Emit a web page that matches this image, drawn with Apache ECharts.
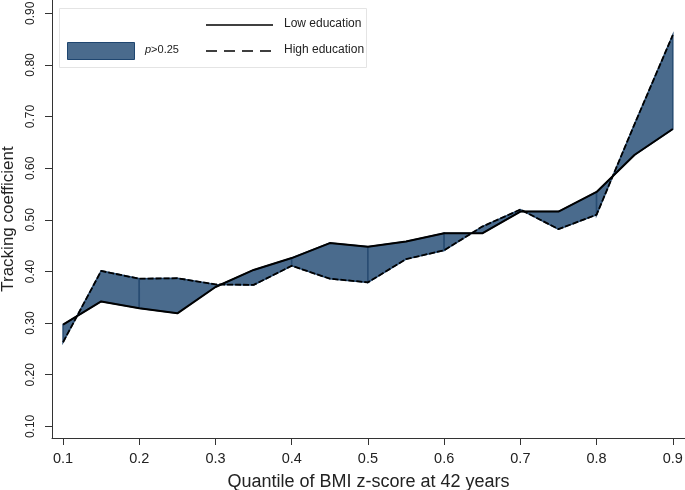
<!DOCTYPE html>
<html>
<head>
<meta charset="utf-8">
<script src="https://cdn.jsdelivr.net/npm/echarts@6/dist/echarts.min.js"></script>
<style>html,body{margin:0;padding:0;background:#fff}#c{width:685px;height:490px}</style>
</head>
<body>
<div id="c"></div>
<script>
// ---- data ----
var quantiles = [0.10,0.15,0.20,0.25,0.30,0.35,0.40,0.45,0.50,0.55,0.60,0.65,0.70,0.75,0.80,0.85,0.90];
var lowEducation  = [0.297,0.342,0.329,0.319,0.370,0.403,0.426,0.455,0.448,0.458,0.474,0.474,0.516,0.516,0.554,0.626,0.676];
var highEducation = [0.263,0.401,0.386,0.387,0.375,0.374,0.411,0.386,0.379,0.424,0.441,0.487,0.520,0.482,0.510,0.686,0.858];
var segmentBreaks = [0.1,0.2,0.4,0.5,0.6,0.8,0.9];
var xTicks = [0.1,0.2,0.3,0.4,0.5,0.6,0.7,0.8,0.9];
var yTicks = [0.1,0.2,0.3,0.4,0.5,0.6,0.7,0.8,0.9];
var seriesNames = ['Low education','High education'];
var bandLabel = '>0.25';
var xTitle = 'Quantile of BMI z-score at 42 years';
var yTitle = 'Tracking coefficient';

var FONT = '"Liberation Sans", Arial, sans-serif';
var FILL = '#4a6b8d';
var EDGE = '#284c72';

function idxOf(q){ for (var i=0;i<quantiles.length;i++){ if (Math.abs(quantiles[i]-q)<1e-9) return i; } return -1; }
var segData = [];
for (var s=0;s<segmentBreaks.length-1;s++){ segData.push([idxOf(segmentBreaks[s]), idxOf(segmentBreaks[s+1])]); }

var chart = echarts.init(document.getElementById('c'), null, {renderer:'canvas'});
var axisCol = '#333';
var option = {
  animation:false,
  backgroundColor:'#fff',
  grid:{left:52, right:0, top:0, bottom:52, containLabel:false, outerBoundsMode:'none'},
  xAxis:{
    type:'value', min:0.0855, max:0.916,
    name:xTitle, nameLocation:'middle', nameGap:35,
    nameTextStyle:{fontSize:18, color:'#222', fontFamily:FONT},
    axisLine:{show:true, lineStyle:{color:axisCol, width:1}},
    axisTick:{show:true, length:7, customValues:xTicks, lineStyle:{color:axisCol}},
    axisLabel:{customValues:xTicks, fontSize:14.5, color:'#222', fontFamily:FONT, margin:13,
      formatter:function(v){return v.toFixed(1);}},
    splitLine:{show:false}
  },
  yAxis:{
    type:'value', min:0.0775, max:0.9258,
    name:yTitle, nameLocation:'middle', nameGap:31,
    nameTextStyle:{fontSize:17, color:'#222', fontFamily:FONT},
    axisLine:{show:true, lineStyle:{color:axisCol, width:1}},
    axisTick:{show:true, length:7, customValues:yTicks, lineStyle:{color:axisCol}},
    axisLabel:{customValues:yTicks, rotate:90, fontSize:12, color:'#222', fontFamily:FONT, margin:15,
      formatter:function(v){return v.toFixed(2);}},
    splitLine:{show:false}
  },
  series:[
    {
      type:'custom', name:'band', z:1,
      data:segData,
      renderItem:function(params, api){
        var a = api.value(0), b = api.value(1);
        var pts = [];
        for (var i=a;i<=b;i++) pts.push(api.coord([quantiles[i], lowEducation[i]]));
        for (var j=b;j>=a;j--) pts.push(api.coord([quantiles[j], highEducation[j]]));
        return {type:'polygon', shape:{points:pts}, style:{fill:FILL, stroke:EDGE, lineWidth:1.5}};
      },
      encode:{x:[], y:[]},
      silent:true
    },
    {
      type:'line', name:seriesNames[0], z:3, symbol:'none',
      data:quantiles.map(function(q,i){return [q, lowEducation[i]];}),
      lineStyle:{color:'#000', width:2, type:'solid'}
    },
    {
      type:'line', name:seriesNames[1], z:3, symbol:'none',
      data:quantiles.map(function(q,i){return [q, highEducation[i]];}),
      lineStyle:{color:'#000', width:1.8, type:[6,2]}
    }
  ],
  graphic:[
    {type:'rect', left:59, top:8, shape:{width:307, height:59}, style:{fill:'#fff', stroke:'#e4e4e4', lineWidth:1}, z:10},
    {type:'rect', left:67, top:42, shape:{width:67, height:17}, style:{fill:FILL, stroke:'#1f4670', lineWidth:1}, z:11},
    {type:'text', left:145, top:44, z:11, style:{text:'{i|p}' + bandLabel, fill:'#222', font:'11px ' + FONT,
      rich:{i:{fontStyle:'italic', fontSize:11, fontFamily:FONT, fill:'#222'}}}},
    {type:'line', z:11, shape:{x1:206, y1:25, x2:273, y2:25}, style:{stroke:'#000', lineWidth:1.5}},
    {type:'line', z:11, shape:{x1:206, y1:51, x2:273, y2:51}, style:{stroke:'#000', lineWidth:1.5, lineDash:[11,7]}},
    {type:'text', left:284, top:18, z:11, style:{text:seriesNames[0], fill:'#222', font:'12px ' + FONT}},
    {type:'text', left:284, top:44, z:11, style:{text:seriesNames[1], fill:'#222', font:'12px ' + FONT}}
  ]
};
chart.setOption(option);
</script>
</body>
</html>
